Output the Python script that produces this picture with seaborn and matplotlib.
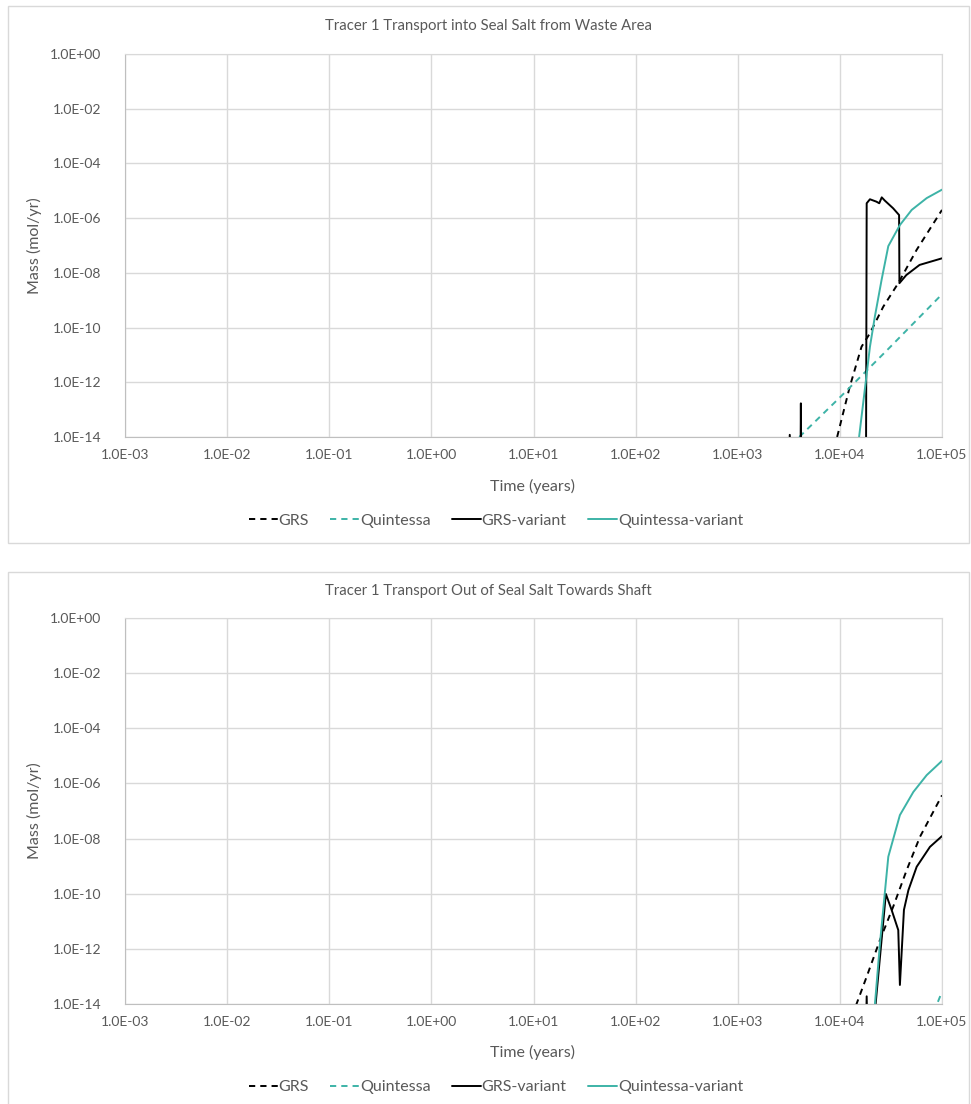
import numpy as np
import pandas as pd
import seaborn as sns
import matplotlib.pyplot as plt
import matplotlib.patches as patches
from matplotlib.ticker import FixedLocator, FuncFormatter, NullLocator

# ---- data (time in years, mass in mol/yr) ----
# values below the axis floor (1e-14) are written as 1e-16 so the line drops out of view

# panel 1: into seal salt from waste area
p1_grs_t = [9400, 12500, 16300, 19700, 26600, 37300, 56400, 100000]
p1_grs_m = [1e-14, 6.9e-13, 2.0e-11, 6.2e-11, 5.8e-10, 4.2e-9, 6.9e-8, 2.0e-6]

p1_q_t = [4000, 10000, 30000, 100000]
p1_q_m = [1e-14, 2.8e-13, 1.7e-11, 1.65e-9]

p1_grsv_t = [3150, 3230, 3400, 4100, 4150, 4200, 18000, 18300, 19700, 22800, 24300,
             25700, 27500, 33200, 38000, 38300, 44700, 60300, 100000]
p1_grsv_m = [1e-16, 1.2e-14, 1e-16, 1e-16, 1.7e-13, 1e-16, 1e-16, 3.5e-6, 4.9e-6, 4.0e-6, 3.5e-6,
             5.75e-6, 4.4e-6, 2.3e-6, 1.3e-6, 4.2e-9, 8.3e-9, 1.95e-8, 3.4e-8]

p1_qv_t = [15300, 18000, 19700, 22000, 25600, 29800, 38700, 50500, 70800, 100000]
p1_qv_m = [7.8e-15, 1.2e-12, 2.0e-11, 2.5e-10, 5.5e-9, 9.5e-8, 5.6e-7, 2.0e-6, 5.4e-6, 1.1e-5]

# panel 2: out of seal salt towards shaft
p2_grs_t = [14400, 18300, 24700, 33300, 45100, 60800, 100000]
p2_grs_m = [9e-15, 9.8e-14, 2.1e-12, 3.4e-11, 7.2e-10, 1.15e-8, 3.7e-7]

p2_q_t = [83000, 100000]
p2_q_m = [5e-15, 2.8e-14]

p2_grsv_t = [17800, 18300, 18800, 22000, 28200, 32100, 37300, 38700, 42400, 46900,
             56500, 76200, 100000]
p2_grsv_m = [1e-16, 1.9e-14, 1e-16, 5e-15, 9.8e-11, 2.6e-11, 4.8e-12, 4.9e-14, 2.6e-11, 1.35e-10,
             9.5e-10, 5.0e-9, 1.23e-8]

p2_qv_t = [22000, 24700, 29800, 38700, 52400, 70800, 100000]
p2_qv_m = [9.1e-15, 1.6e-12, 2.2e-9, 7.1e-8, 4.9e-7, 2.0e-6, 6.6e-6]

titles = ["Tracer 1 Transport into Seal Salt from Waste Area",
          "Tracer 1 Transport Out of Seal Salt Towards Shaft"]
series_names = ["GRS", "Quintessa", "GRS-variant", "Quintessa-variant"]
x_ticks = [1e-3, 1e-2, 1e-1, 1e0, 1e1, 1e2, 1e3, 1e4, 1e5]
y_ticks = [1e0, 1e-2, 1e-4, 1e-6, 1e-8, 1e-10, 1e-12, 1e-14]

# ---- styling ----
sns.set_style("white")
plt.rcParams['font.family'] = ['Lato', 'DejaVu Sans']
TXT = "#595959"
GRID = "#d9d9d9"
TEAL = "#3db3a7"
styles = {
    "GRS": dict(color="black", linestyle=(0, (3.2, 2.6))),
    "Quintessa": dict(color=TEAL, linestyle=(0, (3.2, 2.6))),
    "GRS-variant": dict(color="black", linestyle="-"),
    "Quintessa-variant": dict(color=TEAL, linestyle="-"),
}

W, H = 971, 1104
fig = plt.figure(figsize=(W / 100, H / 100), dpi=100)


def fx(px):
    return px / W


def fy(py):
    return 1 - py / H


panels = [
    dict(top=54, bottom=437, box=(8, 6, 969, 543), title_y=26, xlabel_y=486, legend_y=521,
         data=[(p1_grs_t, p1_grs_m), (p1_q_t, p1_q_m), (p1_grsv_t, p1_grsv_m), (p1_qv_t, p1_qv_m)]),
    dict(top=618, bottom=1004, box=(8, 572, 969, 1110), title_y=591, xlabel_y=1052, legend_y=1087,
         data=[(p2_grs_t, p2_grs_m), (p2_q_t, p2_q_m), (p2_grsv_t, p2_grsv_m), (p2_qv_t, p2_qv_m)]),
]

left, right = 125, 942

for i, p in enumerate(panels):
    # chart area border
    x0, y0, x1, y1 = p["box"]
    fig.add_artist(patches.Rectangle((fx(x0), fy(y1)), fx(x1) - fx(x0), fy(y0) - fy(y1),
                                     transform=fig.transFigure, fill=False,
                                     edgecolor=GRID, lw=1.0, clip_on=False))

    ax = fig.add_axes([fx(left), fy(p["bottom"]), fx(right) - fx(left), fy(p["top"]) - fy(p["bottom"])])
    ax.set_xscale("log")
    ax.set_yscale("log")

    for name, (t, m) in zip(series_names, p["data"]):
        df = pd.DataFrame({"t": t, "m": m})
        sns.lineplot(data=df, x="t", y="m", ax=ax, estimator=None, sort=False,
                     lw=1.4, label=name, **styles[name])

    ax.set_xlim(1e-3, 1e5)
    ax.set_ylim(1e-14, 1e0)
    ax.xaxis.set_major_locator(FixedLocator(x_ticks))
    ax.yaxis.set_major_locator(FixedLocator(y_ticks))
    ax.xaxis.set_minor_locator(NullLocator())
    ax.yaxis.set_minor_locator(NullLocator())
    fmt = FuncFormatter(lambda v, pos: f"{v:.1E}")
    ax.xaxis.set_major_formatter(fmt)
    ax.yaxis.set_major_formatter(fmt)
    ax.tick_params(axis="both", length=0, labelsize=10, labelcolor=TXT)
    ax.tick_params(axis="x", pad=9)
    ax.tick_params(axis="y", pad=17)
    ax.grid(True, color=GRID, lw=1.0)
    ax.set_axisbelow(True)
    for s in ["top", "right"]:
        ax.spines[s].set_color(GRID)
    for s in ["bottom", "left"]:
        ax.spines[s].set_color("#bfbfbf")
    ax.set_xlabel("")
    ax.set_ylabel("")

    fig.text(fx(34), fy((p["top"] + p["bottom"]) / 2), "Mass (mol/yr)", rotation=90,
             ha="center", va="center", fontsize=11.5, color=TXT)
    fig.text(fx(533), fy(p["xlabel_y"]), "Time (years)", ha="center", va="center",
             fontsize=11.5, color=TXT)
    fig.text(fx(488.5), fy(p["title_y"]), titles[i], ha="center", va="center",
             fontsize=10.7, color=TXT)

    handles, labels = ax.get_legend_handles_labels()
    if ax.legend_:
        ax.legend_.remove()
    leg = ax.legend(handles, labels, loc="center", bbox_to_anchor=(fx(496), fy(p["legend_y"])),
                    bbox_transform=fig.transFigure, ncol=4, frameon=False, fontsize=11.5,
                    handlelength=1.8, handletextpad=0.05, columnspacing=1.35)
    for txt in leg.get_texts():
        txt.set_color(TXT)

fig.savefig("out.png", dpi=100)
